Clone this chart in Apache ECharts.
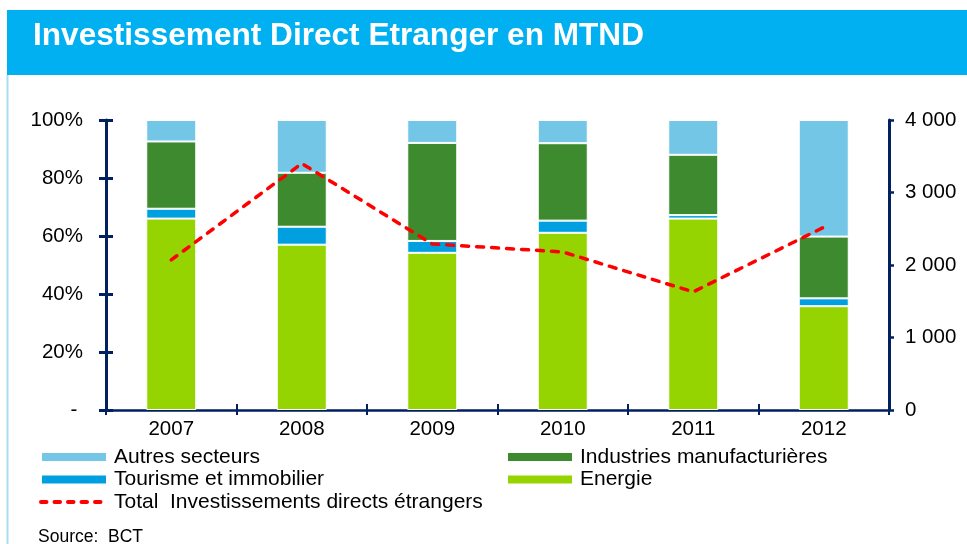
<!DOCTYPE html>
<html>
<head>
<meta charset="utf-8">
<script src="https://cdn.jsdelivr.net/npm/echarts@6/dist/echarts.min.js"></script>
<style>
html,body{margin:0;padding:0;background:#fff;}
#main{width:967px;height:544px;}
</style>
</head>
<body>
<div id="main"></div>
<script>
// ---- data ----
const years = ['2007', '2008', '2009', '2010', '2011', '2012'];
const energie = [66.0, 57.0, 54.2, 61.1, 66.0, 35.8];
const tourisme = [3.4, 6.2, 4.1, 4.2, 1.2, 2.7];
const industries = [23.2, 18.6, 33.8, 26.7, 20.8, 21.3];
const autres = [7.4, 18.2, 7.9, 8.0, 12.0, 40.2];
const totalIDE = [2070, 3400, 2290, 2180, 1630, 2520];
const leftTicks = [0, 20, 40, 60, 80, 100];
const rightTicks = [0, 1000, 2000, 3000, 4000];

const names = {
  autres: 'Autres secteurs',
  industries: 'Industries manufacturières',
  tourisme: 'Tourisme et immobilier',
  energie: 'Energie',
  total: 'Total  Investissements directs étrangers'
};

const NAVY = '#002060';
const FONT = '"Liberation Sans", Arial, sans-serif';

const chart = echarts.init(document.getElementById('main'), null, {renderer: 'canvas'});

function barSeries(name, data, color) {
  return {
    name: name, type: 'bar', stack: 'pct', yAxisIndex: 0, xAxisIndex: 0,
    data: data, barWidth: 50,
    itemStyle: {color: color, borderColor: '#ffffff', borderWidth: 1},
    emphasis: {disabled: true}
  };
}

const legendText = {fontSize: 21, color: '#000', lineHeight: 22, fontFamily: FONT, padding: [0, 0, 0, 2]};

const option = {
  animation: false,
  textStyle: {fontFamily: FONT},
  graphic: [
    {type: 'rect', shape: {x: 7, y: 10, width: 960, height: 65}, style: {fill: '#00b0f0'}, silent: true},
    {type: 'line', shape: {x1: 7.5, y1: 75, x2: 7.5, y2: 544}, style: {stroke: '#a9dcf2', lineWidth: 2}, silent: true},
    {type: 'text', left: 38, top: 528, style: {text: 'Source:  BCT', font: '17.5px ' + FONT, fill: '#000'}, silent: true}
  ],
  title: {
    text: 'Investissement Direct Etranger en MTND',
    left: 28, top: 15,
    textStyle: {color: '#fff', fontSize: 31.6, fontWeight: 'bold', fontFamily: FONT}
  },
  grid: {left: 106, right: 78, top: 120, bottom: 134, containLabel: false},
  legend: [
    {
      orient: 'vertical', left: 39, top: 446, padding: 0, itemWidth: 66, itemHeight: 10, itemGap: 0.5,
      data: [
        {name: names.autres, icon: 'rect'},
        {name: names.tourisme, icon: 'rect'},
        {name: names.total, itemStyle: {opacity: 0, color: 'rgba(0,0,0,0)', borderWidth: 0},
         lineStyle: {color: '#ff0000', width: 4, type: [5.5, 8], cap: 'round'}}
      ],
      textStyle: legendText,
      selectedMode: false
    },
    {
      orient: 'vertical', left: 506, top: 446, padding: 0, itemWidth: 66, itemHeight: 10, itemGap: 0.5,
      data: [
        {name: names.industries, icon: 'rect'},
        {name: names.energie, icon: 'rect'}
      ],
      textStyle: legendText,
      selectedMode: false
    }
  ],
  xAxis: [
    {
      type: 'category', data: years, position: 'bottom',
      axisLine: {lineStyle: {color: NAVY, width: 2.5}},
      axisTick: {show: true, length: 5, lineStyle: {color: NAVY, width: 2}},
      axisLabel: {color: '#000', fontSize: 20.5, margin: 9, fontFamily: FONT},
      splitLine: {show: false}
    },
    {
      type: 'category', data: years, position: 'bottom',
      axisLine: {show: false},
      axisTick: {show: true, inside: true, length: 6, lineStyle: {color: NAVY, width: 2}},
      axisLabel: {show: false},
      splitLine: {show: false}
    }
  ],
  yAxis: [
    {
      type: 'value', position: 'left', min: leftTicks[0], max: leftTicks[leftTicks.length - 1], interval: 20,
      axisLine: {show: true, lineStyle: {color: NAVY, width: 3}},
      axisTick: {show: true, length: 7, lineStyle: {color: NAVY, width: 3}},
      axisLabel: {
        color: '#000', fontSize: 20.5, margin: 23, fontFamily: FONT,
        formatter: v => v === 0 ? '- ' : v + '%'
      },
      splitLine: {show: false}
    },
    {
      type: 'value', position: 'right', min: rightTicks[0], max: rightTicks[rightTicks.length - 1], interval: 1000,
      axisLine: {show: true, lineStyle: {color: NAVY, width: 3}},
      axisTick: {show: true, length: 5, lineStyle: {color: NAVY, width: 2.5}},
      axisLabel: {
        color: '#000', fontSize: 20.5, margin: 16, fontFamily: FONT,
        formatter: v => String(v).replace(/\B(?=(\d{3})+(?!\d))/g, ' ')
      },
      splitLine: {show: false}
    },
    {
      type: 'value', position: 'left', min: 0, max: 100, interval: 20,
      axisLine: {show: false},
      axisTick: {show: true, inside: true, length: 7, lineStyle: {color: NAVY, width: 3}},
      axisLabel: {show: false},
      splitLine: {show: false}
    }
  ],
  series: [
    barSeries(names.energie, energie, '#95d400'),
    barSeries(names.tourisme, tourisme, '#009fdf'),
    barSeries(names.industries, industries, '#3e8a2f'),
    barSeries(names.autres, autres, '#73c6e6'),
    {
      name: names.total, type: 'line', yAxisIndex: 1, xAxisIndex: 0,
      data: totalIDE, symbol: 'none', z: 5,
      lineStyle: {color: '#ff0000', width: 3.5, type: [7, 8], cap: 'round'},
      itemStyle: {color: '#ff0000'},
      emphasis: {disabled: true}
    }
  ]
};
chart.setOption(option);
</script>
</body>
</html>
